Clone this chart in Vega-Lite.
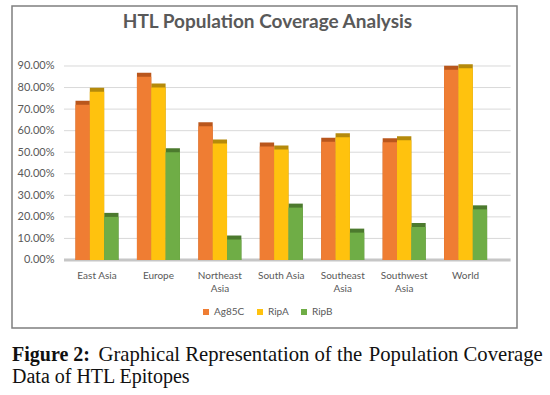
{
  "$schema": "https://vega.github.io/schema/vega-lite/v6.json",
  "autosize": {"type": "pad"},
  "padding": {"left": 11, "top": 5, "right": 0, "bottom": 0},
  "background": "white",
  "config": {
    "font": "Lato",
    "view": {"stroke": null},
    "axisX": {
      "title": null, "bandPosition": 0.5, "labelAngle": 0, "labelAlign": "center", "labelBaseline": "top",
      "domain": false, "ticks": false, "grid": false, "offset": -60, "labelPadding": 2,
      "labelFont": "Lato", "labelFontSize": 10, "labelColor": "#595959", "labelLineHeight": 13
    },
    "axisY": {
      "title": null, "labelOverlap": false, "grid": false, "domain": false, "ticks": false,
      "offset": -44, "labelPadding": 2, "labelAlign": "right", "labelBaseline": "middle",
      "labelFont": "Lato", "labelFontSize": 11, "labelColor": "#595959"
    }
  },
  "datasets": {
    "coverage": [
      {"region": "East Asia", "series": "Ag85C", "value": 0.72},
      {"region": "East Asia", "series": "RipA", "value": 0.78},
      {"region": "East Asia", "series": "RipB", "value": 0.2},
      {"region": "Europe", "series": "Ag85C", "value": 0.85},
      {"region": "Europe", "series": "RipA", "value": 0.8},
      {"region": "Europe", "series": "RipB", "value": 0.5},
      {"region": "Northeast Asia", "series": "Ag85C", "value": 0.62},
      {"region": "Northeast Asia", "series": "RipA", "value": 0.54},
      {"region": "Northeast Asia", "series": "RipB", "value": 0.095},
      {"region": "South Asia", "series": "Ag85C", "value": 0.526},
      {"region": "South Asia", "series": "RipA", "value": 0.513},
      {"region": "South Asia", "series": "RipB", "value": 0.243},
      {"region": "Southeast Asia", "series": "Ag85C", "value": 0.549},
      {"region": "Southeast Asia", "series": "RipA", "value": 0.569},
      {"region": "Southeast Asia", "series": "RipB", "value": 0.127},
      {"region": "Southwest Asia", "series": "Ag85C", "value": 0.546},
      {"region": "Southwest Asia", "series": "RipA", "value": 0.556},
      {"region": "Southwest Asia", "series": "RipB", "value": 0.153},
      {"region": "World", "series": "Ag85C", "value": 0.882},
      {"region": "World", "series": "RipA", "value": 0.89},
      {"region": "World", "series": "RipB", "value": 0.235}
    ],
    "grid": [
      {"tick": 0.1, "from": "East Asia", "to": "World"},
      {"tick": 0.2, "from": "East Asia", "to": "World"},
      {"tick": 0.3, "from": "East Asia", "to": "World"},
      {"tick": 0.4, "from": "East Asia", "to": "World"},
      {"tick": 0.5, "from": "East Asia", "to": "World"},
      {"tick": 0.6, "from": "East Asia", "to": "World"},
      {"tick": 0.7, "from": "East Asia", "to": "World"},
      {"tick": 0.8, "from": "East Asia", "to": "World"},
      {"tick": 0.9, "from": "East Asia", "to": "World"}
    ]
  },
  "spacing": 15,
  "vconcat": [
    {
      "width": 505,
      "height": 322,
      "view": {"stroke": "#7f7f7f", "strokeWidth": 1.5, "fill": "white"},
      "title": {
        "text": "HTL Population Coverage Analysis",
        "font": "Lato",
        "fontSize": 19,
        "fontWeight": "bold",
        "color": "#595959",
        "anchor": "middle",
        "frame": "group",
        "offset": -26,
        "dx": 3
      },
      "layer": [
        {
          "data": {"name": "grid"},
          "mark": {"type": "rule", "color": "#d9d9d9", "strokeWidth": 1, "xOffset": -33, "x2Offset": 45},
          "encoding": {
            "y": {"field": "tick", "type": "quantitative", "axis": {"values": [0, 0.1, 0.2, 0.3, 0.4, 0.5, 0.6, 0.7, 0.8, 0.9], "format": ".2%", "labelOverlap": false}},
            "x": {"field": "from", "type": "nominal", "axis": {"labelExpr": "(datum.label == 'Northeast Asia' || datum.label == 'Southeast Asia' || datum.label == 'Southwest Asia') ? split(datum.label, ' ') : datum.label"}},
            "x2": {"field": "to"}
          }
        },
        {
          "data": {"values": [{"tick": 0, "from": "East Asia", "to": "World"}]},
          "mark": {"type": "rule", "color": "#c6c6c6", "strokeWidth": 3, "xOffset": -33, "x2Offset": 45},
          "encoding": {
            "y": {"field": "tick", "type": "quantitative", "axis": {"values": [0, 0.1, 0.2, 0.3, 0.4, 0.5, 0.6, 0.7, 0.8, 0.9], "format": ".2%", "labelOverlap": false}},
            "x": {"field": "from", "type": "nominal", "axis": {"labelExpr": "(datum.label == 'Northeast Asia' || datum.label == 'Southeast Asia' || datum.label == 'Southwest Asia') ? split(datum.label, ' ') : datum.label"}},
            "x2": {"field": "to"}
          }
        },
        {
          "data": {"name": "coverage"},
          "mark": {"type": "bar", "xOffset": 4, "yOffset": -4},
          "encoding": {
            "x": {"field": "region", "type": "nominal", "sort": null, "axis": {"labelExpr": "(datum.label == 'Northeast Asia' || datum.label == 'Southeast Asia' || datum.label == 'Southwest Asia') ? split(datum.label, ' ') : datum.label"}},
            "xOffset": {"field": "series", "sort": ["Ag85C", "RipA", "RipB"]},
            "y": {"field": "value", "type": "quantitative", "stack": null, "axis": {"values": [0, 0.1, 0.2, 0.3, 0.4, 0.5, 0.6, 0.7, 0.8, 0.9], "format": ".2%", "labelOverlap": false}},
            "fill": {
              "field": "series",
              "type": "nominal",
              "scale": {"domain": ["RipB", "RipA", "Ag85C"], "range": ["#4C7A2E", "#B58A0B", "#B9561C"]},
              "legend": null
            }
          }
        },
        {
          "data": {"name": "coverage"},
          "mark": {"type": "bar"},
          "encoding": {
            "x": {
              "field": "region",
              "type": "nominal",
              "sort": null,
              "scale": {"domain": ["East Asia", "Europe", "Northeast Asia", "South Asia", "Southeast Asia", "Southwest Asia", "World"], "paddingInner": 0.3, "paddingOuter": 0.76, "align": 0.68},
              "axis": {"labelExpr": "(datum.label == 'Northeast Asia' || datum.label == 'Southeast Asia' || datum.label == 'Southwest Asia') ? split(datum.label, ' ') : datum.label"}
            },
            "xOffset": {"field": "series", "sort": ["Ag85C", "RipA", "RipB"]},
            "y": {
              "field": "value",
              "type": "quantitative",
              "stack": null,
              "scale": {"domain": [-0.3155, 1.1783], "nice": false},
              "axis": {"values": [0, 0.1, 0.2, 0.3, 0.4, 0.5, 0.6, 0.7, 0.8, 0.9], "format": ".2%", "labelOverlap": false}
            },
            "color": {
              "field": "series",
              "type": "nominal",
              "scale": {"domain": ["Ag85C", "RipA", "RipB"], "range": ["#EF7D33", "#FFC20E", "#6FAD46"]},
              "legend": {
                "orient": "none",
                "legendX": 189,
                "legendY": 301,
                "padding": 0,
                "direction": "horizontal",
                "title": null,
                "symbolType": "square",
                "symbolSize": 36,
                "symbolStrokeWidth": 0,
                "labelFont": "Lato",
                "labelFontSize": 10,
                "labelColor": "#595959",
                "labelOffset": 3,
                "columnPadding": 10
              }
            }
          }
        }
      ]
    },
    {
      "width": 534,
      "height": 44,
      "view": {"stroke": null},
      "layer": [
        {
          "data": {"values": [{"text": "Figure 2:", "row": 1, "pos": 0}]},
          "mark": {"type": "text", "font": "Liberation Serif", "fontSize": 20, "fontWeight": "bold", "align": "left", "baseline": "middle", "color": "#111111"},
          "encoding": {
            "text": {"field": "text"},
            "x": {"field": "pos", "type": "quantitative", "scale": {"domain": [0, 1]}, "axis": null},
            "y": {"field": "row", "type": "ordinal", "axis": null}
          }
        },
        {
          "data": {"values": [{"text": "Graphical Representation of the", "row": 1, "pos": 0.162}]},
          "mark": {"type": "text", "font": "Liberation Serif", "fontSize": 20.7, "align": "left", "baseline": "middle", "color": "#111111"},
          "encoding": {
            "text": {"field": "text"},
            "x": {"field": "pos", "type": "quantitative", "scale": {"domain": [0, 1]}, "axis": null},
            "y": {"field": "row", "type": "ordinal", "axis": null}
          }
        },
        {
          "data": {"values": [{"text": "Population Coverage", "row": 1, "pos": 0.994}]},
          "mark": {"type": "text", "font": "Liberation Serif", "fontSize": 20.7, "align": "right", "baseline": "middle", "color": "#111111"},
          "encoding": {
            "text": {"field": "text"},
            "x": {"field": "pos", "type": "quantitative", "scale": {"domain": [0, 1]}, "axis": null},
            "y": {"field": "row", "type": "ordinal", "axis": null}
          }
        },
        {
          "data": {"values": [{"text": "Data of HTL Epitopes", "row": 2, "pos": 0}]},
          "mark": {"type": "text", "font": "Liberation Serif", "fontSize": 20, "align": "left", "baseline": "middle", "color": "#111111"},
          "encoding": {
            "text": {"field": "text"},
            "x": {"field": "pos", "type": "quantitative", "scale": {"domain": [0, 1]}, "axis": null},
            "y": {"field": "row", "type": "ordinal", "axis": null}
          }
        }
      ]
    }
  ]
}
